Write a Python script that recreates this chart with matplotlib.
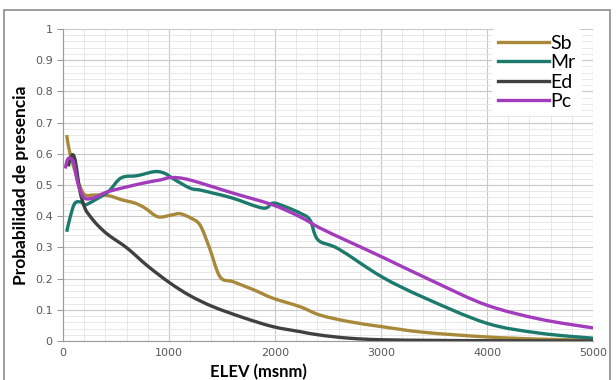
import numpy as np
import matplotlib.pyplot as plt
from matplotlib.patches import Rectangle, PathPatch
from matplotlib.path import Path
from matplotlib.lines import Line2D
from matplotlib.ticker import MultipleLocator

# curvas de probabilidad de presencia vs elevacion
sb_x = [35, 66, 130, 160, 208, 300, 428, 560, 679, 774, 896, 1025, 1104, 1200, 1292, 1380, 1481, 1604,
        1800, 1981, 2236, 2425, 2700, 3006, 3400, 3997, 4500, 5000]
sb_y = [0.66, 0.60, 0.527, 0.495, 0.468, 0.468, 0.466, 0.452, 0.442, 0.426, 0.398, 0.404, 0.408, 0.395,
        0.372, 0.30, 0.206, 0.19, 0.164, 0.137, 0.11, 0.083, 0.062, 0.046, 0.028, 0.013, 0.006, 0.003]

mr_x = [35, 70, 113, 176, 208, 302, 428, 522, 585, 700, 868, 962, 1040, 1198, 1292, 1415, 1600, 1887,
        1981, 2100, 2236, 2330, 2406, 2600, 3006, 3400, 3997, 4500, 5000]
mr_y = [0.35, 0.40, 0.442, 0.445, 0.436, 0.452, 0.479, 0.516, 0.527, 0.53, 0.543, 0.537, 0.52, 0.49,
        0.484, 0.474, 0.458, 0.426, 0.442, 0.43, 0.41, 0.388, 0.324, 0.295, 0.206, 0.14, 0.057, 0.025, 0.009]

ed_x = [50, 75, 97, 120, 160, 208, 260, 330, 428, 604, 800, 1009, 1200, 1415, 1700, 1981, 2236, 2425,
        2700, 3000, 3500, 4000, 5000]
ed_y = [0.56, 0.59, 0.596, 0.57, 0.48, 0.425, 0.398, 0.37, 0.34, 0.298, 0.24, 0.186, 0.145, 0.11, 0.075,
        0.046, 0.03, 0.019, 0.009, 0.004, 0.002, 0.001, 0.0]

pc_x = [20, 50, 97, 130, 160, 208, 302, 428, 742, 915, 1025, 1198, 1604, 1981, 2236, 2425, 2700, 3006,
        3500, 3997, 4500, 5000]
pc_y = [0.553, 0.585, 0.575, 0.52, 0.484, 0.457, 0.46, 0.479, 0.505, 0.516, 0.524, 0.516, 0.474, 0.436,
        0.398, 0.362, 0.318, 0.27, 0.19, 0.115, 0.07, 0.042]

series = [
    ("Sb", sb_x, sb_y, "#A8893A"),
    ("Mr", mr_x, mr_y, "#1C7A6D"),
    ("Ed", ed_x, ed_y, "#404040"),
    ("Pc", pc_x, pc_y, "#A33CBC"),
]


def smooth_path(x, y):
    # linea suavizada tipo Excel: cada tramo es una Bezier cubica (Catmull-Rom)
    p = np.column_stack([x, y]).astype(float)
    ext = np.vstack([p[0], p, p[-1]])
    verts = [p[0]]
    codes = [Path.MOVETO]
    for i in range(len(p) - 1):
        p0, p1, p2, p3 = ext[i], ext[i + 1], ext[i + 2], ext[i + 3]
        verts += [p1 + (p2 - p0) / 6, p2 - (p3 - p1) / 6, p2]
        codes += [Path.CURVE4] * 3
    return Path(verts, codes)


fig = plt.figure(figsize=(6.16, 3.8), dpi=100)
fig.patches.append(Rectangle((4 / 616, -0.01), 606 / 616, 1 - 10 / 380 + 0.01, transform=fig.transFigure,
                             fill=False, edgecolor="#8c8c8c", linewidth=1.2))

ax = fig.add_axes([63 / 616, 39 / 380, 530 / 616, 312 / 380])
handles = []
for name, x, y, color in series:
    ax.add_patch(PathPatch(smooth_path(x, y), fill=False, edgecolor=color, linewidth=2.4,
                           capstyle="butt", joinstyle="round"))
    handles.append(Line2D([], [], color=color, linewidth=2.4, label=name))

ax.set_xlim(0, 5000)
ax.set_ylim(0, 1)
ax.xaxis.set_major_locator(MultipleLocator(1000))
ax.xaxis.set_minor_locator(MultipleLocator(200))
ax.yaxis.set_major_locator(MultipleLocator(0.1))
ax.yaxis.set_minor_locator(MultipleLocator(0.02))
ax.set_yticks(np.arange(0, 1.01, 0.1))
ax.set_yticklabels(["0"] + [f"{v:.1f}" for v in np.arange(0.1, 1.0, 0.1)] + ["1"])

ax.grid(which="major", color="#c8c8c8", linewidth=0.8)
ax.grid(which="minor", color="#e4e4e4", linewidth=0.6)
ax.set_axisbelow(True)

for side in ["top", "right"]:
    ax.spines[side].set_visible(False)
ax.spines["left"].set_color("#9a9a9a")
ax.spines["bottom"].set_color("#9a9a9a")
ax.tick_params(which="major", axis="y", length=4, color="#9a9a9a", labelsize=8, labelcolor="#595959")
ax.tick_params(which="major", axis="x", length=0, labelsize=8, labelcolor="#595959", pad=5)
ax.tick_params(which="minor", length=0)

ax.set_xlabel("ELEV (msnm)", fontsize=12, fontweight="bold", family="Lato", labelpad=0)
ax.xaxis.set_label_coords(0.368, -0.075)
ax.set_ylabel("Probabilidad de presencia", fontsize=12.5, fontweight="bold", family="Lato", labelpad=4)

leg = ax.legend(handles=handles, loc="upper left", bbox_to_anchor=(0.81, 1.0),
                prop={"family": "Lato", "size": 14}, frameon=True,
                handlelength=2.6, handletextpad=0.1, labelspacing=0.12, borderpad=0.3,
                borderaxespad=0.0)
leg.get_frame().set_facecolor("white")
leg.get_frame().set_edgecolor("none")
leg.get_frame().set_alpha(1)

plt.savefig("out.png", dpi=100)
